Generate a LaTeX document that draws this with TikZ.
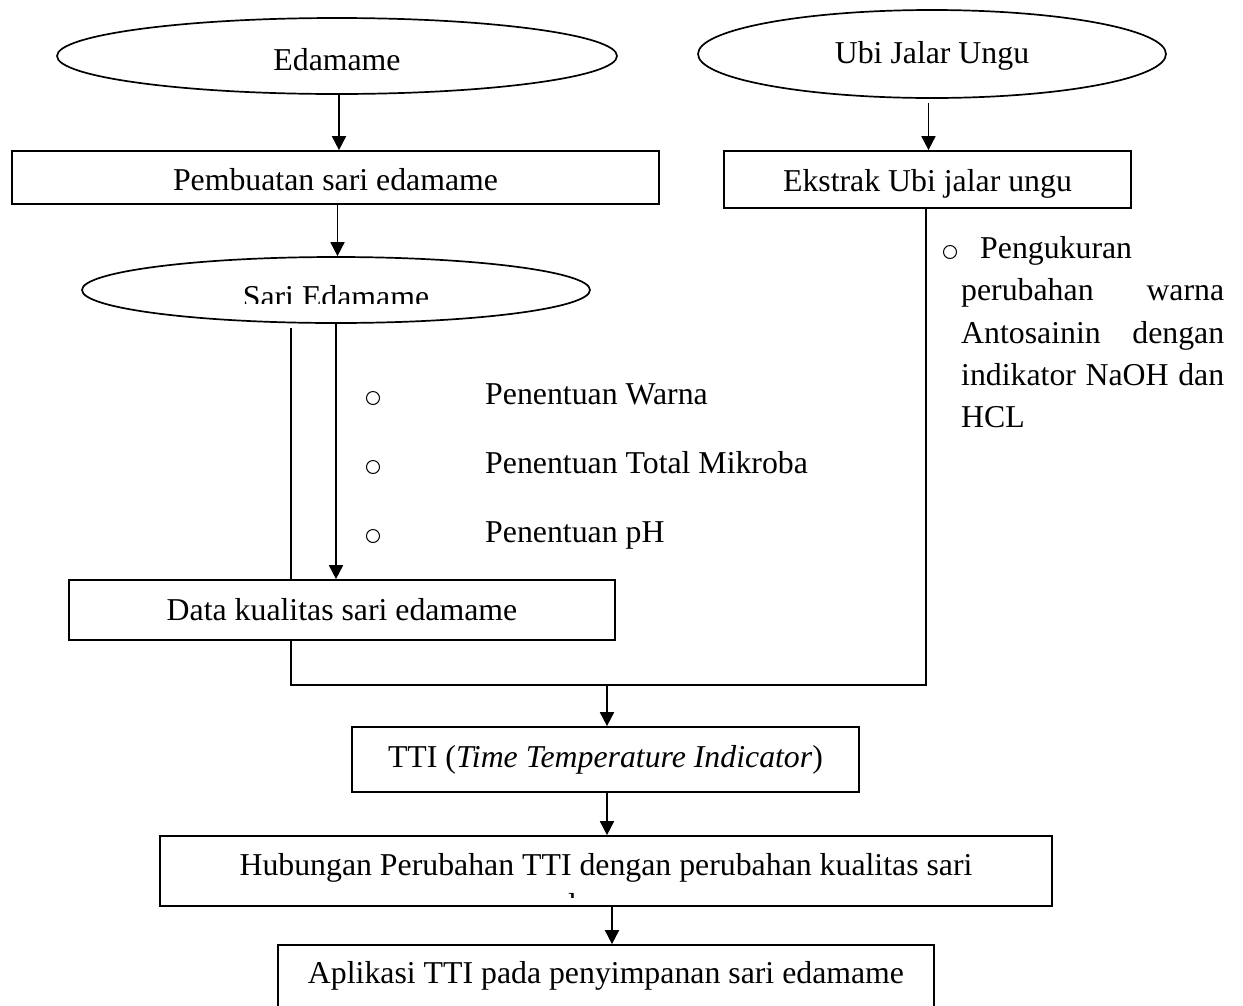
\documentclass[tikz,border=0pt]{standalone}
\usepackage{fontspec}
\setmainfont{Liberation Serif}
\usetikzlibrary{arrows.meta,shapes.geometric}
\begin{document}
\begin{tikzpicture}[x=1pt,y=-1pt,
  every node/.style={font=\fontsize{31.8}{38}\selectfont, inner sep=0pt},
  ell/.style={draw, ellipse, line width=1.7pt, text depth=0pt},
  boxnode/.style={draw, rectangle, line width=1.7pt, text depth=0pt},
  arr/.style={line width=1.7pt, -{Triangle[length=14pt,width=14pt]}},
  conn/.style={line width=1.7pt},
  bullet/.style={draw, circle, line width=1pt, minimum size=13pt},
  txt/.style={anchor=base west}]
\useasboundingbox (0,0) rectangle (1243,1005);
\fill[white] (0,0) rectangle (1243,1005);
\clip (0,0) rectangle (1243,1005);

% left column
\node[ell, minimum width=560pt, minimum height=76pt, text height=28pt] (edamame) at (337,56) {Edamame};
\node[boxnode, minimum width=647pt, minimum height=53pt, text height=25pt] (pembuatan) at (335.5,177.5) {Pembuatan sari edamame};
\node[ell, minimum width=508pt, minimum height=66pt] (sari) at (336,290) {};
\begin{scope}
  \clip (82,257) rectangle (590,303);
  \node[anchor=base] (saritext) at (336,307) {Sari Edamame};
\end{scope}
\node[boxnode, minimum width=546pt, minimum height=60pt, text height=20pt] (data) at (342,610) {Data kualitas sari edamame};

% middle list
\node[bullet] (b1) at (373,398) {};
\node[bullet] (b2) at (373,467) {};
\node[bullet] (b3) at (373,536) {};
\node[txt] (t1) at (485,404) {Penentuan Warna};
\node[txt] (t2) at (485,473) {Penentuan Total Mikroba};
\node[txt] (t3) at (485,542) {Penentuan pH};

% right column
\node[ell, minimum width=468pt, minimum height=88pt, text height=18pt] (ubi) at (932,54) {Ubi Jalar Ungu};
\node[boxnode, minimum width=407pt, minimum height=57pt, text height=23pt] (ekstrak) at (927.5,179.5) {Ekstrak Ubi jalar ungu};

\node[bullet] (b4) at (950,252) {};
\node[txt] (p1) at (980,258) {Pengukuran};
\node[txt] (p2) at (961,300) {\hbox to 263pt{perubahan\hfill warna}};
\node[txt] (p3) at (961,343) {\hbox to 263pt{Antosainin\hfill dengan}};
\node[txt] (p4) at (961,385) {\hbox to 263pt{indikator\hfill NaOH\hfill dan}};
\node[txt] (p5) at (961,427) {HCL};

% bottom
\coordinate (join) at (607,685);
\node[boxnode, minimum width=507pt, minimum height=65pt, text height=15pt] (tti) at (605.5,759.5) {TTI (\textit{Time Temperature Indicator})};
\node[boxnode, minimum width=892pt, minimum height=70pt, text height=8pt] (hub) at (606,871) {Hubungan Perubahan TTI dengan perubahan kualitas sari};
\begin{scope}
  \clip (160,836) rectangle (1052,897);
  \node[anchor=base] (hubtext2) at (607,915) {edamame};
\end{scope}
\node[boxnode, minimum width=656pt, minimum height=70pt, text height=6pt] (apl) at (606,980) {Aplikasi TTI pada penyimpanan sari edamame};

% connectors
\draw[arr] ([xshift=2pt]edamame.south) -- ([xshift=2pt]edamame.south |- pembuatan.north);
\draw[arr] ([xshift=2pt]pembuatan.south) -- ([xshift=2pt]pembuatan.south |- sari.north);
\draw[arr] (sari.south) -- (sari.south |- data.north);
\draw[conn] ([xshift=-45pt,yshift=-4pt]sari.south) -- ([xshift=-45pt]sari.south |- data.north);
\draw[arr] ([xshift=-3.5pt,yshift=-4pt]ubi.south) -- ([xshift=-3.5pt]ubi.south |- ekstrak.north);
\draw[conn] ([xshift=-1.5pt]ekstrak.south) -- ([xshift=-1.5pt]ekstrak.south |- join)
  -- ([xshift=-45pt]sari.south |- join) -- ([xshift=-45pt]sari.south |- data.south);
\draw[arr] (join) -- (join |- tti.north);
\draw[arr] ([xshift=1.5pt]tti.south) -- ([xshift=1.5pt]tti.south |- hub.north);
\draw[arr] ([xshift=6pt]hub.south) -- ([xshift=6pt]hub.south |- apl.north);
\end{tikzpicture}
\end{document}
